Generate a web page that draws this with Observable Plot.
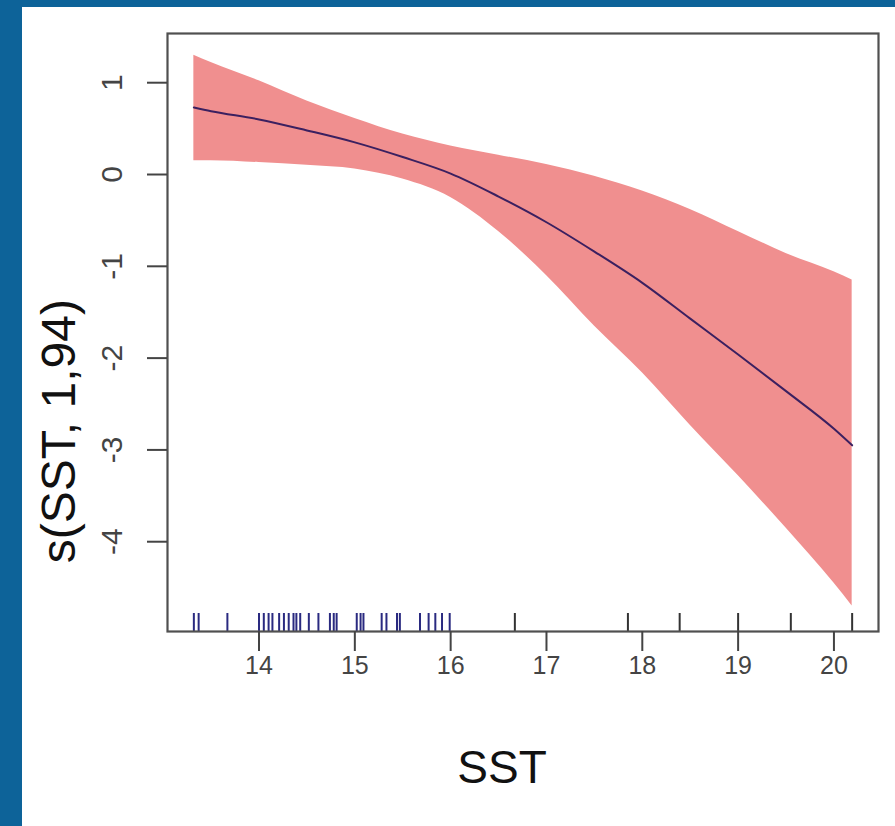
<!DOCTYPE html>
<html>
<head>
<meta charset="utf-8">
<script src="https://cdn.jsdelivr.net/npm/d3@7"></script>
<script src="https://cdn.jsdelivr.net/npm/@observablehq/plot@0.6"></script>
<style>
  html, body { margin: 0; padding: 0; background: #ffffff; }
  body { width: 895px; height: 826px; overflow: hidden; }
  #page {
    box-sizing: border-box;
    width: 895px; height: 826px;
    border-left: 22px solid #0d6399;
    border-top: 7px solid #0d6399;
    background: #ffffff;
  }
  #chart svg { display: block; }
</style>
</head>
<body>
<div id="page"><div id="chart"></div></div>
<script>
// SST grid of the smooth term
const sst      = [13.32, 13.5, 14, 14.5, 15, 15.5, 16, 16.5, 17, 17.5, 18, 18.5, 19, 19.5, 20, 20.19];
// fitted smooth s(SST)
const fitVals  = [0.73, 0.69, 0.60, 0.48, 0.35, 0.19, 0.01, -0.24, -0.52, -0.84, -1.18, -1.57, -1.96, -2.36, -2.77, -2.95];
// upper / lower confidence band
const upperVals = [1.30, 1.22, 1.02, 0.80, 0.61, 0.44, 0.31, 0.21, 0.11, -0.02, -0.18, -0.38, -0.62, -0.86, -1.06, -1.15];
const lowerVals = [0.15, 0.15, 0.13, 0.10, 0.06, -0.05, -0.25, -0.62, -1.10, -1.65, -2.16, -2.73, -3.28, -3.85, -4.45, -4.70];
// rug of observed SST values
const rugSST = [13.32, 13.37, 13.67, 14.00, 14.05, 14.10, 14.14, 14.21, 14.26, 14.31, 14.36, 14.39, 14.43,
                14.52, 14.62, 14.74, 14.78, 14.81, 15.02, 15.06, 15.09, 15.28, 15.33, 15.44, 15.47,
                15.68, 15.77, 15.84, 15.91, 15.99, 16.67, 17.85, 18.39, 19.00, 19.55, 20.19];
const xTicks = [14, 15, 16, 17, 18, 19, 20];
const yTicks = [1, 0, -1, -2, -3, -4];
const xLabel = "SST";
const yLabel = "s(SST, 1,94)";

const curve = sst.map((x, i) => ({x, fit: fitVals[i], lo: lowerVals[i], hi: upperVals[i]}));

const W = 873, H = 819;
const mL = 145, mR = 17, mT = 26, mB = 195;
const innerH = H - mT - mB;
const yDomain = [-4.978, 1.536];
// vertical centre of the y-axis title, in data units (sits below the frame centre as in the original)
const yTitleAt = yDomain[1] - (yDomain[1] - yDomain[0]) * 0.665;

const font = "'Liberation Sans', Arial, sans-serif";

const chart = Plot.plot({
  width: W,
  height: H,
  marginLeft: mL,
  marginRight: mR,
  marginTop: mT,
  marginBottom: mB,
  style: {fontFamily: font, background: "transparent", overflow: "visible"},
  x: {domain: [13.045, 20.465]},
  y: {domain: yDomain},
  marks: [
    Plot.areaY(curve, {x: "x", y1: "lo", y2: "hi", fill: "#f08f8f", curve: "monotone-x"}),
    Plot.lineY(curve, {x: "x", y: "fit", stroke: "#3b2060", strokeWidth: 2, curve: "monotone-x"}),
    Plot.tickX(rugSST, {x: d => d, stroke: d => d < 16.2 ? "#2a2a80" : "#333333", strokeWidth: 2, insetTop: innerH - 18}),
    Plot.frame({stroke: "#505050", strokeWidth: 2.2}),
    Plot.axisX({ticks: xTicks, tickSize: 20, tickPadding: 5, fontSize: 25, tickFormat: d => String(d),
                stroke: "#444", strokeWidth: 2, color: "#444", label: null}),
    Plot.axisY({ticks: yTicks, tickSize: 20, tickFormat: () => "", stroke: "#444", strokeWidth: 2, label: null}),
    Plot.text(yTicks, {y: d => d, text: d => String(d), frameAnchor: "left", dx: -55, rotate: -90,
                       textAnchor: "middle", lineAnchor: "middle", fontSize: 30, fill: "#444"}),
    Plot.text([xLabel], {text: d => d, frameAnchor: "bottom", dx: -21, dy: 137, fontSize: 46,
                         textAnchor: "middle", lineAnchor: "middle", fill: "#111"}),
    Plot.text([yLabel], {text: d => d, frameAnchor: "left", y: () => yTitleAt, dx: -108, rotate: -90,
                         fontSize: 48, textAnchor: "middle", lineAnchor: "middle", fill: "#111"})
  ]
});
document.getElementById("chart").appendChild(chart);
</script>
</body>
</html>
